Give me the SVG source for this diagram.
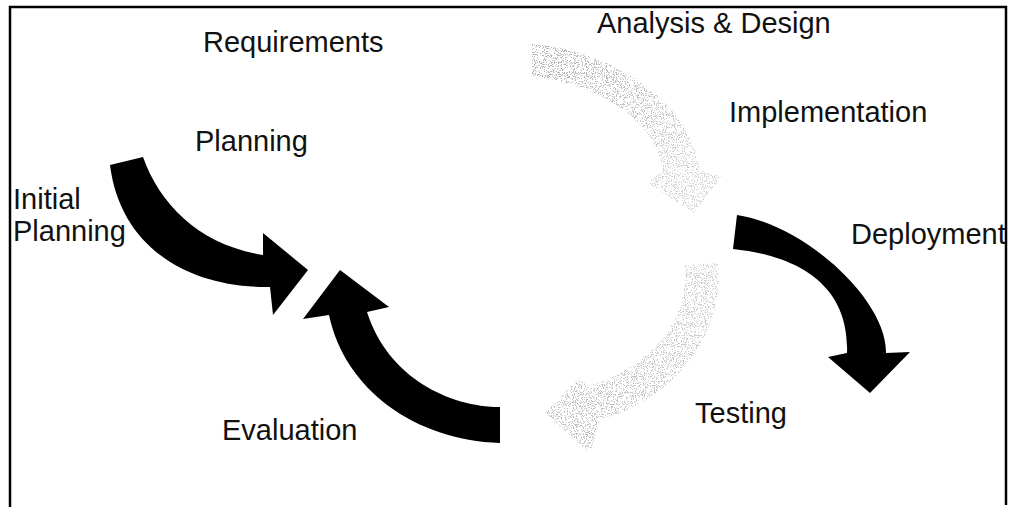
<svg xmlns="http://www.w3.org/2000/svg" width="1012" height="507" viewBox="0 0 1012 507">
  <defs>
    <style>
      .label { font-family: "Liberation Sans", Arial, Helvetica, sans-serif; font-size: 29px; fill: #111; }
      .solid { fill: #000; }
      .faint { filter: url(#stipple); }
      .frame { fill: none; stroke: #000; stroke-width: 2.5; }
    </style>
    <!-- speckled grey fill for the two faded arrows -->
    <filter id="stipple" x="0" y="0" width="1" height="1" filterUnits="objectBoundingBox">
      <feTurbulence type="fractalNoise" baseFrequency="0.9" numOctaves="2" seed="7" result="noise"/>
      <feColorMatrix in="noise" type="matrix" values="0 0 0 0 0.45  0 0 0 0 0.45  0 0 0 0 0.45  0 0 0 -20 8.9" result="dots"/>
      <feComposite in="dots" in2="SourceAlpha" operator="in"/>
    </filter>
    <linearGradient id="fadeTop" x1="0" y1="0" x2="1" y2="1">
      <stop offset="0" stop-color="#000" stop-opacity="1"/>
      <stop offset="1" stop-color="#000" stop-opacity="0.5"/>
    </linearGradient>
    <linearGradient id="fadeBottom" x1="1" y1="0" x2="0" y2="1">
      <stop offset="0" stop-color="#000" stop-opacity="0.6"/>
      <stop offset="1" stop-color="#000" stop-opacity="0.85"/>
    </linearGradient>
  </defs>

  <rect width="1012" height="507" fill="#fff"/>

  <!-- outer frame (open at the bottom) -->
  <path class="frame" d="M10,507 L10,7 L1006,7 L1006,505"/>

  <g id="connectors">
    <!-- Initial Planning into the cycle -->
    <path id="arrow-initial" class="solid" d="M110,165 L143,157 C160,205 200,245 263,255 L263,233 L308,270 L273,315 L270,287 C185,288 120,245 110,165 Z"/>
    <!-- Requirements to Analysis & Design (faded) -->
    <path id="arrow-analysis" class="faint" fill="url(#fadeTop)" d="M532,44 C610,50 690,100 700,170 L722,177 L693,213 L648,183 L663,170 C655,120 600,85 532,76 Z"/>
    <!-- Implementation to Deployment -->
    <path id="arrow-deploy" class="solid" d="M733,249 L737,215 C805,225 887,300 886,353 L910,352 L870,393 L828,357 L847,353 C850,275 782,254 733,249 Z"/>
    <!-- Testing back round (faded) -->
    <path id="arrow-testing" class="faint" fill="url(#fadeBottom)" d="M718,263 C725,340 670,400 600,420 L590,453 L545,413 L580,377 L587,387 C640,370 690,330 685,265 Z"/>
    <!-- Evaluation back to Planning -->
    <path id="arrow-eval" class="solid" d="M500,443 L500,407 C450,407 388,378 367,312 L389,307 L340,270 L303,319 L329,315 C345,390 415,440 500,443 Z"/>
  </g>

  <g id="node-analysis"><text class="label" x="597" y="33">Analysis &amp; Design</text></g>
  <g id="node-requirements"><text class="label" x="203" y="52">Requirements</text></g>
  <g id="node-implementation"><text class="label" x="729" y="122">Implementation</text></g>
  <g id="node-planning"><text class="label" x="195" y="151">Planning</text></g>
  <g id="node-initial-planning">
    <text class="label" x="13" y="209">Initial</text>
    <text class="label" x="13" y="241">Planning</text>
  </g>
  <g id="node-deployment"><text class="label" x="851" y="244">Deployment</text></g>
  <g id="node-testing"><text class="label" x="695" y="423">Testing</text></g>
  <g id="node-evaluation"><text class="label" x="222" y="440">Evaluation</text></g>
</svg>
